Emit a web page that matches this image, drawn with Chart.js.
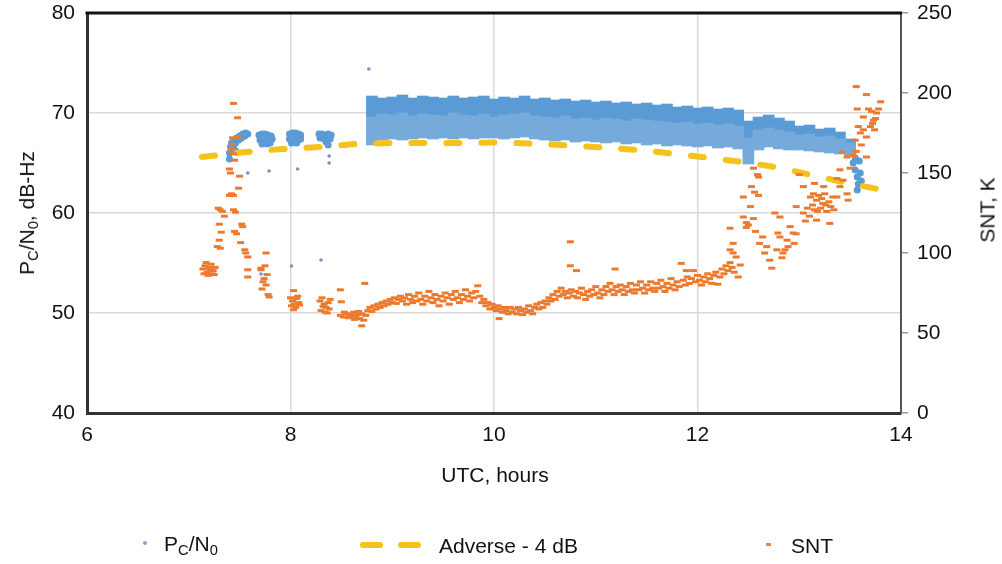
<!DOCTYPE html>
<html>
<head>
<meta charset="utf-8">
<script src="https://cdn.jsdelivr.net/npm/chart.js@4.4.1/dist/chart.umd.min.js"></script>
<style>
html,body{margin:0;padding:0;background:#fff;}
#wrap{position:relative;width:1002px;height:564px;font-family:'Liberation Sans',Arial,Helvetica,sans-serif;color:#111;overflow:hidden;}
#c{position:absolute;left:0;top:0;}
.t{position:absolute;font-size:21px;line-height:21px;white-space:nowrap;}
.sub{font-size:0.7em;position:relative;top:0.3em;}
.rot{transform:translate(-50%,-50%) rotate(-90deg);}
.ctr{transform:translate(-50%,-50%);}
.lft{transform:translate(0,-50%);}
.mk{position:absolute;}
</style>
</head>
<body>
<div id="wrap">
<canvas id="c" width="1002" height="564"></canvas>
<div class="t rot" style="left:28px;top:213px;">P<span class="sub">C</span>/N<span class="sub">0</span>, dB-Hz</div>
<div class="t rot" style="left:987px;top:210px;">SNT, K</div>
<div class="t ctr" style="left:495px;top:474px;">UTC, hours</div>
<div class="mk" style="left:143px;top:541px;width:4px;height:4px;border-radius:2px;background:#7DA6D3;"></div>
<div class="t lft" style="left:164px;top:545px;">P<span class="sub">C</span>/N<span class="sub">0</span></div>
<div class="mk" style="left:360px;top:542px;width:23px;height:6px;border-radius:3px;background:#F5C21B;"></div>
<div class="mk" style="left:398px;top:542px;width:23px;height:6px;border-radius:3px;background:#F5C21B;"></div>
<div class="t lft" style="left:439px;top:545px;">Adverse - 4 dB</div>
<div class="mk" style="left:766px;top:543px;width:5px;height:3px;background:#D88A5A;"></div>
<div class="t lft" style="left:791px;top:545px;">SNT</div>
</div>
<script>
// ---- tick values ----
const xTicks = [6, 8, 10, 12, 14];
const leftTicks = [40, 50, 60, 70, 80];
const rightTicks = [0, 50, 100, 150, 200, 250];

// ---- Pc/N0 dense band (per time column: low / mid / high, dB-Hz) ----
// above "mid" the points are solid; below it they are sparser (speckled)
const bandHours = [8.8,8.9,9.0,9.1,9.2,9.3,9.4,9.5,9.6,9.7,9.8,9.9,10.0,10.1,10.2,10.3,10.4,10.5,10.6,10.7,10.8,10.9,11.0,11.1,11.2,11.3,11.4,11.5,11.6,11.7,11.8,11.9,12.0,12.1,12.2,12.3,12.4,12.5,12.6,12.7,12.8,12.9,13.0,13.1,13.2,13.3,13.4,13.5];
const bandLow  = [66.8,67.3,67.4,67.3,67.4,67.5,67.4,67.5,67.4,67.5,67.4,67.5,67.5,67.4,67.5,67.6,67.4,67.3,67.2,67.3,67.1,67.2,67.1,67.0,67.1,66.9,67.0,66.8,66.9,66.7,66.8,66.7,66.6,66.7,66.5,66.6,66.4,64.9,66.3,66.6,66.4,66.3,66.3,66.2,66.1,66.0,65.9,65.7];
const bandMid  = [69.6,69.9,69.8,70.0,69.7,69.9,69.8,69.7,70.0,69.8,69.7,69.9,69.6,69.8,69.9,70.0,69.7,69.6,69.5,69.7,69.4,69.5,69.3,69.5,69.4,69.2,69.4,69.3,69.2,69.1,69.0,69.1,68.9,69.0,68.8,68.9,68.7,67.5,68.3,68.5,68.3,68.1,67.8,67.9,67.6,67.7,67.4,67.0];
const bandHigh = [71.7,71.5,71.6,71.8,71.5,71.7,71.6,71.5,71.7,71.5,71.6,71.7,71.4,71.6,71.5,71.7,71.4,71.5,71.3,71.4,71.2,71.3,71.1,71.2,71.0,71.1,70.9,71.0,70.8,70.9,70.6,70.7,70.5,70.6,70.4,70.5,70.3,69.2,69.6,69.8,69.5,69.2,68.7,68.8,68.4,68.5,68.1,67.4];

// ---- Pc/N0 clustered points [hours, dB-Hz] ----
const pcn0Points = [
 [7.40,65.4],[7.40,66.0],[7.41,66.6],[7.42,67.0],[7.44,66.5],[7.44,67.2],[7.46,67.0],[7.46,66.2],[7.47,67.5],[7.49,67.3],[7.50,67.7],[7.52,67.5],[7.53,67.9],[7.55,67.7],[7.56,68.0],[7.58,67.9],
 [7.69,67.8],[7.72,67.9],[7.75,67.9],[7.78,67.8],[7.81,67.7],[7.70,67.3],[7.73,67.2],[7.76,67.3],[7.79,67.3],[7.82,67.4],[7.72,66.9],[7.77,66.9],[7.80,67.0],
 [7.99,67.9],[8.02,68.0],[8.05,68.0],[8.08,67.9],[8.10,67.8],[7.99,67.4],[8.02,67.3],[8.05,67.4],[8.08,67.3],[8.10,67.4],[8.01,67.0],[8.06,67.0],
 [8.28,67.9],[8.31,67.9],[8.34,67.8],[8.37,67.9],[8.40,67.8],[8.29,67.5],[8.33,67.4],[8.36,67.5],[8.39,67.4],[8.35,67.1],[8.37,66.8],
 [13.53,65.0],[13.55,64.3],[13.57,63.6],[13.58,62.9],[13.57,62.3],[13.60,64.0],[13.61,63.2],[13.55,65.5],[13.59,65.2]
];
// ---- Pc/N0 isolated points ----
const pcn0Sparse = [[8.77,74.4],[7.58,64.0],[7.79,64.2],[8.07,64.4],[8.38,65.7],[8.38,65.0],[8.37,66.7],[8.01,54.7],[8.30,55.3],[7.71,53.9]];

// ---- Adverse - 4 dB ----
const adverseHours  = [7.13,7.21,7.56,7.92,8.29,8.64,9.0,9.37,9.73,10.09,10.46,10.82,11.16,11.53,11.88,12.2,12.52,12.84,13.16,13.47,13.82];
const adverseValues = [65.6,65.7,66.1,66.4,66.6,66.9,67.0,67.0,67.0,67.05,66.9,66.7,66.5,66.2,65.8,65.4,65.0,64.45,63.7,63.0,62.3];

// ---- SNT points [hours, K] ----
const sntPoints = [
 [7.14,90],[7.16,92],[7.18,88],[7.20,91],[7.22,93],[7.24,89],[7.26,91],[7.15,87],[7.19,86],[7.23,87],[7.17,94],[7.25,86.5],[7.21,89.5],
 [7.29,128],[7.31,127],[7.33,126],[7.35,123],[7.30,108],[7.31,103],[7.32,113],[7.30,118],[7.28,104],
 [7.40,136],[7.42,137],[7.44,136],[7.40,152.5],[7.41,150],[7.42,165],[7.43,168],[7.44,162],[7.45,158],[7.43,172],[7.44,193.5],[7.48,184.5],[7.48,172.5],[7.50,148],[7.49,140.5],[7.46,125.5],[7.44,127],[7.45,113.5],[7.47,112],[7.53,116.5],[7.52,118],[7.51,106.5],[7.55,102],[7.56,100],[7.58,97.5],[7.58,89.5],[7.58,85],
 [7.76,100],[7.75,92],[7.71,89.5],[7.77,86.5],[7.73,82],[7.72,77.5],[7.78,74],[7.79,72.5],[7.74,84],[7.76,80],[7.71,90.5],
 [8.03,76.5],[8.00,72],[8.02,70],[8.04,68],[8.06,71.5],[8.08,69],[8.01,67],[8.05,66],[8.07,73],[8.03,64.5],[8.09,67.5],
 [8.29,70],[8.31,72],[8.33,68],[8.35,66],[8.37,69],[8.39,71],[8.30,64],[8.34,63],[8.38,65],[8.36,62.5],[8.32,66.5],
 [8.49,77],[8.49,61],[8.50,69.5],
 [8.52,60],[8.53,63],[8.55,62],[8.57,59.5],[8.58,61.5],[8.60,61],[8.62,63],[8.63,58.5],[8.64,60],[8.66,61.5],[8.67,63.5],[8.68,59],[8.70,62],[8.70,54.5],[8.72,58],[8.73,81],[8.74,61],
 [8.76,64],[8.78,66],[8.80,63.5],[8.82,67],[8.84,65],[8.86,68],[8.88,66],[8.90,69],[8.92,67],[8.94,70],[8.96,68],[8.98,71],[9.00,69],[9.02,72],[9.04,68.5],[9.06,71],[9.08,73],[9.10,70],[9.12,72],[9.14,68],[9.16,74],[9.18,71],[9.20,69],[9.22,73],[9.24,70],[9.26,75],[9.28,71],[9.30,68],[9.32,73],[9.34,70],[9.36,76],[9.38,72],[9.40,69],[9.42,74],[9.44,71],[9.46,67],[9.48,73],[9.50,70],[9.52,75],[9.54,72],[9.56,68],[9.58,74],[9.60,71],[9.62,76],[9.64,72],[9.66,69],[9.68,74],[9.70,71],[9.72,77],[9.74,73],[9.76,70],[9.78,75],[9.80,72],[9.82,76],[9.84,79.5],[9.86,73],[9.88,69],[9.90,71],[9.92,67],[9.94,69],[9.96,65],[9.98,68],
 [10.00,66],[10.02,64],[10.04,67],[10.05,59],[10.06,65],[10.08,63],[10.10,66],[10.12,64],[10.14,62],[10.16,66],[10.18,63],[10.20,65],[10.22,62],[10.24,66],[10.26,64],[10.28,61.5],[10.30,65],[10.32,63],[10.34,67],[10.36,64],[10.38,62],[10.40,66],[10.42,68],[10.44,65],[10.46,69],[10.48,66],[10.50,70],[10.52,68],[10.54,72],[10.56,70],[10.58,74],[10.60,71],[10.62,76],[10.64,73],[10.66,78],[10.68,74],[10.70,76],[10.72,72],[10.74,75],[10.75,107],[10.75,92],[10.76,77],[10.78,73],[10.80,76],[10.81,89],[10.82,72],[10.84,75],[10.86,78],[10.88,74],[10.90,71],[10.92,76],[10.94,73],[10.96,77],[10.98,74],
 [11.00,79],[11.02,75],[11.04,72],[11.06,77],[11.08,74],[11.10,79],[11.12,76],[11.14,81],[11.16,77],[11.18,74],[11.19,90],[11.20,79],[11.22,76],[11.24,80],[11.26,77],[11.28,74],[11.30,79],[11.32,76],[11.34,81],[11.36,77],[11.38,75],[11.40,80],[11.42,77],[11.44,82],[11.46,78],[11.48,75],[11.50,80],[11.52,77],[11.54,82],[11.56,78],[11.58,76],[11.60,81],[11.62,78],[11.64,83],[11.66,79],[11.68,76],[11.70,81],[11.72,78],[11.74,84],[11.76,80],[11.78,77],[11.80,82],[11.82,79],[11.84,93.5],[11.86,83],[11.88,80],[11.89,89],[11.90,85],[11.92,81],[11.94,84],[11.96,89],[11.98,82],
 [12.00,86],[12.02,83],[12.04,80],[12.06,85],[12.08,82],[12.10,87],[12.12,84],[12.14,81],[12.16,86],[12.18,88],[12.20,80.5],[12.22,85],[12.24,90],[12.26,87],[12.28,92],[12.30,89],[12.32,94],[12.34,91],[12.36,88],[12.38,97.5],[12.40,85],[12.42,92.5],
 [12.32,102],[12.32,115.5],[12.35,100],[12.35,106],[12.45,122.5],[12.52,129],[12.53,141.5],[12.60,147.5],[12.55,153],[12.45,135],[12.60,136],[12.48,116],[12.48,119],[12.57,113.5],[12.55,121.5],[12.50,117.5],[12.59,149],[12.56,138],
 [12.61,106],[12.66,100],[12.71,95.5],[12.73,90.5],[12.78,102],[12.81,110],[12.81,122.5],[12.88,108],[12.94,112.5],[12.91,116.5],[12.84,100],[12.79,112.5],[12.86,102],[12.97,112],[12.76,125],[12.68,104],[12.64,110],[12.83,97],[12.89,104],[12.95,106],
 [13.00,149],[13.04,141.5],[13.15,143.5],[12.97,129],[13.04,125],[13.17,120.5],[13.30,118.5],[13.34,127],[13.37,135],[13.40,141.5],[13.43,145.5],[13.47,137],[13.48,133],[13.37,146.5],[13.40,152],
 [13.11,135],[13.13,130],[13.15,127],[13.17,133],[13.19,136],[13.21,128],[13.23,131],[13.25,137],[13.27,126],[13.29,132],[13.31,129],[13.33,135],[13.14,137],[13.22,134],[13.26,130],[13.18,126],[13.08,128],[13.06,120],[13.10,123],[13.24,141.5],
 [13.50,153],[13.53,161],[13.56,163.5],[13.55,170.5],[13.60,175],[13.63,177],[13.66,172.5],[13.66,160],[13.70,179],[13.63,185],[13.73,183],[13.76,187.5],[13.71,188.5],[13.66,199],[13.56,204],[13.80,194.5],[13.74,177],[13.58,179],[13.61,167.5],[13.42,163],[13.47,160],[13.68,190],[13.72,181],[13.75,184],[13.78,190],[13.57,190]
];

const tickFont = {family:"'Liberation Sans', Arial, Helvetica, sans-serif", size:21};
const gridCol = '#D9D9D9';

const topBorder = {
  id:'topBorder',
  afterDraw(chart){
    const a = chart.chartArea, c = chart.ctx;
    c.save(); c.strokeStyle = '#111'; c.lineWidth = 3;
    c.beginPath(); c.moveTo(a.left - 1.5, a.top); c.lineTo(a.right + 1, a.top); c.stroke();
    c.restore();
  }
};

function fixV(w){ return s => { s.width = w; s.paddingTop = 0; s.paddingBottom = 0; }; }

new Chart(document.getElementById('c'), {
  type:'scatter',
  data:{datasets:[
    {type:'bar', label:'Pc/N0 band (dense)', data: bandHours.map((h,i)=>({x:h, y:[bandMid[i], bandHigh[i]]})),
     backgroundColor:'#5B9BD5', borderWidth:0, barThickness:11, grouped:false, yAxisID:'y', order:6},
    {type:'bar', label:'Pc/N0 band (sparse)', data: bandHours.map((h,i)=>({x:h, y:[bandLow[i], bandMid[i]]})),
     backgroundColor:'#76AADB', borderWidth:0, barThickness:11, grouped:false, yAxisID:'y', order:5},
    {type:'scatter', label:'Pc/N0', data: pcn0Points.map(p=>({x:p[0], y:p[1]})),
     pointRadius:3.5, pointBackgroundColor:'#5B9BD5', pointBorderWidth:0, yAxisID:'y', order:4},
    {type:'scatter', label:'Pc/N0 sparse', data: pcn0Sparse.map(p=>({x:p[0], y:p[1]})),
     pointRadius:1.8, pointBackgroundColor:'#7A93BD', pointBorderWidth:0, yAxisID:'y', order:3},
    {type:'line', label:'Adverse - 4 dB', data: adverseHours.map((h,i)=>({x:h, y:adverseValues[i]})),
     showLine:true, borderColor:'#F5C21B', borderWidth:6, borderDash:[13,22], borderCapStyle:'round',
     pointRadius:0, tension:0, fill:false, yAxisID:'y', order:2},
    {type:'scatter', label:'SNT', data: sntPoints.map(p=>({x:p[0], y:p[1]})),
     pointStyle:'line', pointRadius:3.5, pointBorderWidth:3, pointBorderColor:'#EC7A2E', pointBackgroundColor:'#EC7A2E',
     yAxisID:'y1', order:1}
  ]},
  options:{
    responsive:false, animation:false, devicePixelRatio:1,
    layout:{padding:{top:13,left:0,right:0,bottom:0}},
    plugins:{legend:{display:false}, tooltip:{enabled:false}, title:{display:false}},
    scales:{
      x:{type:'linear', position:'bottom', min:6, max:14, offset:false,
         afterBuildTicks:s=>{s.ticks = xTicks.map(v=>({value:v}));},
         afterFit:s=>{s.height = 151; s.paddingLeft = 0; s.paddingRight = 0;},
         ticks:{font:tickFont, color:'#111', padding:10, maxRotation:0, autoSkip:false},
         grid:{offset:false, color:c=> (c.tick && (c.tick.value===6 || c.tick.value===14)) ? 'rgba(0,0,0,0)' : gridCol, lineWidth:1.5, drawTicks:false},
         border:{display:true, color:'#333', width:3}},
      y:{type:'linear', position:'left', min:40, max:80,
         afterBuildTicks:s=>{s.ticks = leftTicks.map(v=>({value:v}));},
         afterFit:fixV(87),
         ticks:{font:tickFont, color:'#111', padding:12},
         grid:{offset:false, color:c=> (c.tick && (c.tick.value===40 || c.tick.value===80)) ? 'rgba(0,0,0,0)' : gridCol, lineWidth:1.5, drawTicks:false},
         border:{display:true, color:'#333', width:3}},
      y1:{type:'linear', position:'right', min:0, max:250,
         afterBuildTicks:s=>{s.ticks = rightTicks.map(v=>({value:v}));},
         afterFit:fixV(101),
         ticks:{font:tickFont, color:'#111', padding:9},
         grid:{offset:false, drawOnChartArea:false, drawTicks:true, tickLength:7, color:'#999', lineWidth:1.5},
         border:{display:true, color:'#555', width:2}}
    }
  },
  plugins:[topBorder]
});
</script>
</body>
</html>
